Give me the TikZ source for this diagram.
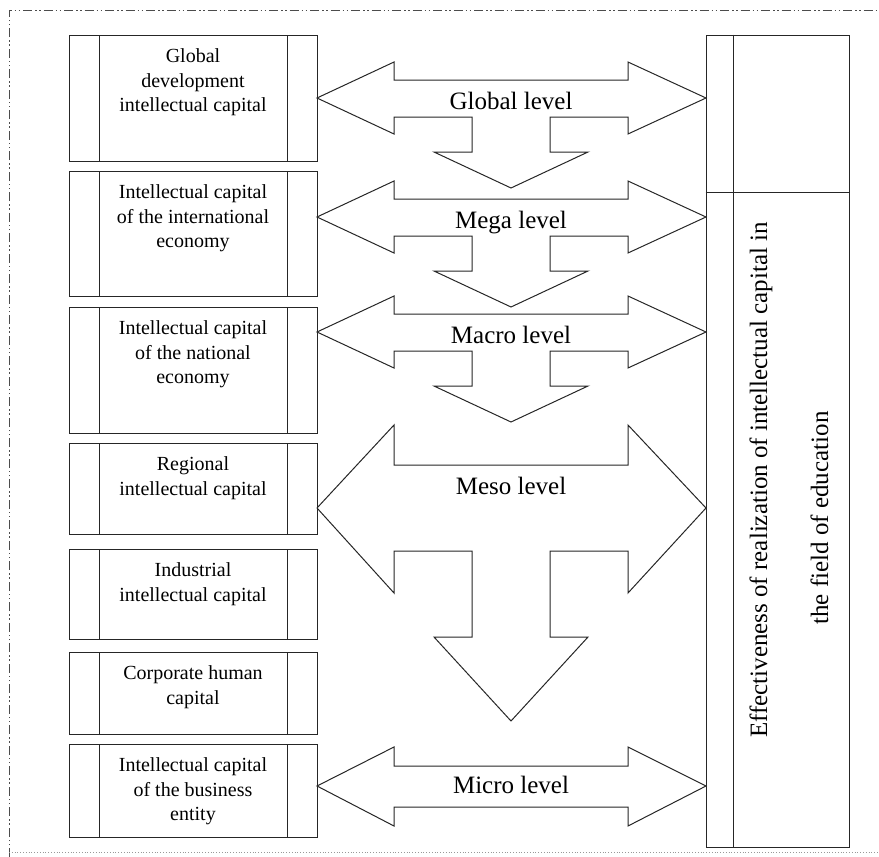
\documentclass[tikz,border=0pt]{standalone}
\usepackage{fontspec}
\setmainfont{Liberation Serif}
\usepackage{tikz}

\begin{document}
\begin{tikzpicture}[
    x=1pt, y=-1pt,
    line/.style={draw=black!85, line width=1pt},
    cbox/.style={rectangle, line, minimum width=248pt, inner sep=0pt,
        path picture={
            \draw[line] ([xshift=30pt]path picture bounding box.north west) -- ([xshift=30pt]path picture bounding box.south west);
            \draw[line] ([xshift=-30pt]path picture bounding box.north east) -- ([xshift=-30pt]path picture bounding box.south east);}},
    btext/.style={inner sep=0pt, anchor=north, yshift=-14pt, align=center, font={\fontsize{20}{24.5}\selectfont}},
    lvl/.style={anchor=base, font={\fontsize{25}{30}\selectfont}},
    effect/.style={rotate=90, anchor=base, font={\fontsize{25}{30}\selectfont}},
    block/.style={line, fill=white, line join=miter},
    frame/.style={draw=black!70, line width=1pt, dash pattern=on 9pt off 3pt on 1.5pt off 2.5pt on 1.5pt off 3pt}
]
    \useasboundingbox (0,0) rectangle (879,857);

    % outer frame
    \draw[frame] (9,857) -- (9,10) -- (879,10);
    \draw[black!40, dotted, line width=0.8pt] (9,852) -- (879,852);

    % capital boxes
    \node[cbox, minimum height=126pt, label={[btext]north:Global\\development\\intellectual capital}] (glob) at (193,98) {};
    \node[cbox, minimum height=125pt, label={[btext]north:Intellectual capital\\of the international\\economy}] (intl) at (193,233.5) {};
    \node[cbox, minimum height=126pt, label={[btext]north:Intellectual capital\\of the national\\economy}] (natl) at (193,370) {};
    \node[cbox, minimum height=91pt, label={[btext]north:Regional\\intellectual capital}] (regn) at (193,488.5) {};
    \node[cbox, minimum height=90pt, label={[btext]north:Industrial\\intellectual capital}] (indu) at (193,594) {};
    \node[cbox, minimum height=82pt, label={[btext]north:Corporate human\\capital}] (corp) at (193,693) {};
    \node[cbox, minimum height=93pt, label={[btext]north:Intellectual capital\\of the business\\entity}] (firm) at (193,790.5) {};

    % effectiveness box
    \node[rectangle, line, minimum width=143pt, minimum height=812pt] (eff) at (777.5,441) {};
    \draw[line] ([xshift=28pt]eff.north west) -- ([xshift=28pt]eff.south west);
    \draw[line] ([yshift=-158pt]eff.north west) -- ([yshift=-158pt]eff.north east);
    \node[effect] (eff1) at (767,480) {Effectiveness of realization of intellectual capital in};
    \node[effect] (eff2) at (828,518) {the field of education};

    % level arrows
    \foreach \y/\name in {98/Global, 217/Mega, 332/Macro} {
        \draw[block] (317,\y) -- (394,\y-36) -- (394,\y-18) -- (628,\y-18) -- (628,\y-36) -- (706,\y)
            -- (628,\y+36) -- (628,\y+19) -- (550,\y+19) -- (550,\y+54) -- (588,\y+54) -- (511,\y+90)
            -- (434,\y+54) -- (472,\y+54) -- (472,\y+19) -- (394,\y+19) -- (394,\y+36) -- cycle;
        \node[lvl] (\name) at (511,\y+11) {\name\ level};
    }
    \draw[block] (317,508) -- (394,425) -- (394,465) -- (628,465) -- (628,425) -- (706,508)
        -- (628,593) -- (628,551) -- (550,551) -- (550,637) -- (588,637) -- (511,721)
        -- (434,637) -- (472,637) -- (472,551) -- (394,551) -- (394,593) -- cycle;
    \node[lvl] (meso) at (511,494) {Meso level};
    \draw[block] (317,786) -- (394,747) -- (394,766) -- (628,766) -- (628,747) -- (706,786)
        -- (628,826) -- (628,807) -- (394,807) -- (394,826) -- cycle;
    \node[lvl] (micro) at (511,793) {Micro level};
\end{tikzpicture}
\end{document}
